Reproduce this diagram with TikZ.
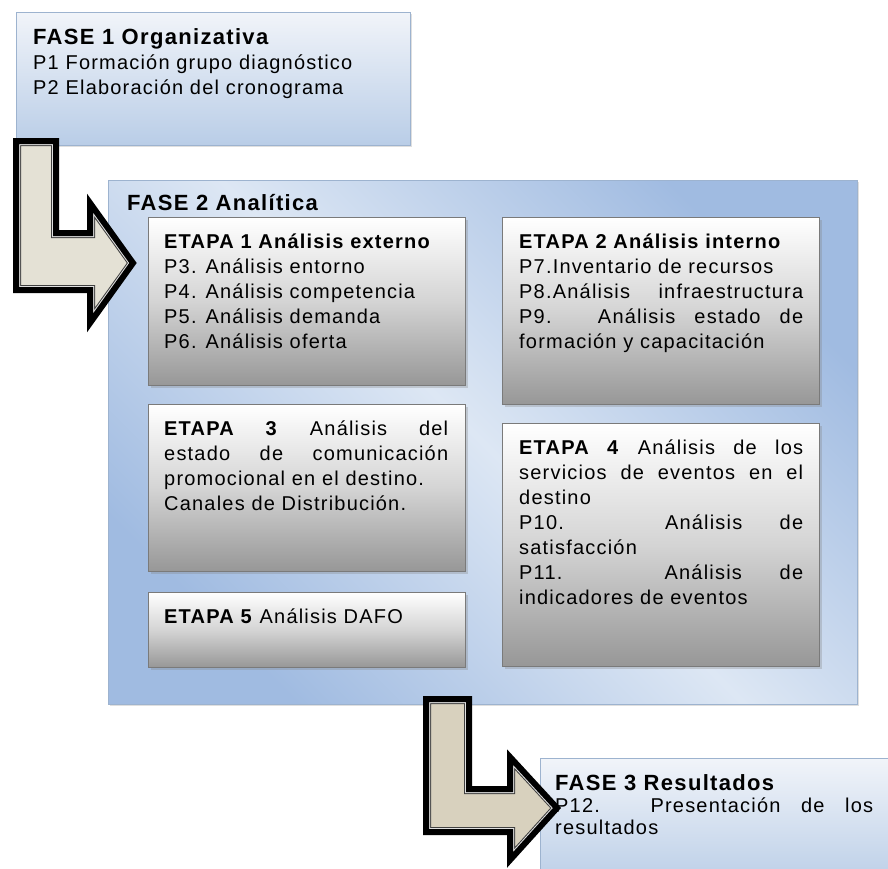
\documentclass[tikz,border=0pt]{standalone}
\usepackage{fontspec}
\setmainfont{Liberation Sans}[LetterSpace=6]
\usetikzlibrary{positioning,shadows}

\definecolor{faseTop}{HTML}{F1F4F9}
\definecolor{faseBot}{HTML}{B9CDE7}
\definecolor{faseLine}{HTML}{9DB3CF}
\definecolor{fTwoLight}{HTML}{DDE7F4}
\definecolor{fTwoDark}{HTML}{A0BBE1}
\definecolor{etapaMid}{HTML}{D4D4D4}
\definecolor{etapaBot}{HTML}{979797}
\definecolor{etapaLine}{HTML}{7A7A7A}
\definecolor{arrowA}{HTML}{E4E1D5}
\definecolor{arrowB}{HTML}{D8D1BE}

\newcommand{\fasetitle}[1]{{\fontsize{22}{25}\selectfont\bfseries #1}}
\newcommand{\bentarrow}[2]{%
  \fill[#2] #1;
  \begin{scope}
    \clip #1;
    \draw[arrowline, line width=10pt, black!75] #1;
    \draw[arrowline, line width=8pt, black!12] #1;
  \end{scope}
  \draw[arrowline] #1;
}

\begin{document}
\begin{tikzpicture}[
    x=1pt, y=-1pt,
    % --- Box styles ---
    box/.style={anchor=north west, inner sep=0pt},
    fase/.style={box, draw=faseLine, line width=0.8pt,
      top color=faseTop, bottom color=faseBot,
      drop shadow={shadow xshift=1.5pt, shadow yshift=-1.5pt, opacity=0.25}},
    analitica/.style={box, draw=faseLine, line width=0.8pt,
      top color=fTwoDark, bottom color=fTwoDark, middle color=fTwoLight,
      shading angle=-45,
      drop shadow={shadow xshift=1.5pt, shadow yshift=-2pt, opacity=0.25}},
    etapa/.style={box, draw=etapaLine, line width=1pt, minimum width=317pt,
      top color=white, bottom color=etapaBot, middle color=etapaMid,
      drop shadow={shadow xshift=2pt, shadow yshift=-2pt, opacity=0.3}},
    % --- Text styles ---
    txt/.style={anchor=base west, inner sep=0pt, text width=284pt,
      align=justify, font=\fontsize{20}{25}\selectfont},
    % --- Arrow style ---
    arrowline/.style={draw=black, line width=6pt, line join=miter},
    node distance=18pt,
]
\useasboundingbox (0,0) rectangle (888,868);

% === Phase boxes ===
\node[fase, minimum width=394pt, minimum height=133pt] (f1) at (16,12) {};
\node[analitica, minimum width=749pt, minimum height=524pt] (f2) at (108,180) {};
\node[fase, minimum width=370pt, minimum height=130pt] (f3) at (540,758) {};

% === Stage boxes ===
\node[etapa, minimum height=168pt] (e1) at (148,217) {};
\node[etapa, minimum height=187pt, right=36pt of e1.north east, anchor=north west] (e2) {};
\node[etapa, minimum height=167pt, below=of e1.south west, anchor=north west] (e3) {};
\node[etapa, minimum height=243pt, below=of e2.south west, anchor=north west] (e4) {};
\node[etapa, minimum height=75pt, below=20pt of e3.south west, anchor=north west] (e5) {};

% === Texts ===
\node[txt, text width=370pt] (f1t) at ([xshift=17pt, yshift=-32pt]f1.north west)
  {\fasetitle{FASE 1 Organizativa}\\ P1 Formación grupo diagnóstico\\
   P2 Elaboración del cronograma};
\node[txt] (f2t) at ([xshift=19pt, yshift=-30pt]f2.north west)
  {\fasetitle{FASE 2 Analítica}};
\node[txt, text width=318pt, font=\fontsize{20}{22}\selectfont] (f3t)
  at ([xshift=15pt, yshift=-32pt]f3.north west)
  {\fasetitle{FASE 3 Resultados}\\ P12. Presentación de los\linebreak resultados};

\node[txt] (e1t) at ([xshift=16pt, yshift=-31pt]e1.north west)
  {\textbf{ETAPA 1 Análisis externo}\\ P3. Análisis entorno\\
   P4. Análisis competencia\\ P5. Análisis demanda\\ P6. Análisis oferta};
\node[txt] (e2t) at ([xshift=17pt, yshift=-31pt]e2.north west)
  {\textbf{ETAPA 2 Análisis interno}\\ P7.Inventario de recursos\\
   P8.Análisis infraestructura\linebreak P9. Análisis estado de\linebreak
   formación y capacitación};
\node[txt] (e3t) at ([xshift=16pt, yshift=-31pt]e3.north west)
  {\textbf{ETAPA 3} Análisis del\linebreak estado de comunicación\linebreak
   promocional en el destino.\\ Canales de Distribución.};
\node[txt] (e4t) at ([xshift=17pt, yshift=-31pt]e4.north west)
  {\textbf{ETAPA 4} Análisis de los\linebreak servicios de eventos en el\linebreak
   destino\\ P10. Análisis de\linebreak satisfacción\\
   P11. Análisis de\linebreak indicadores de eventos};
\node[txt] (e5t) at ([xshift=16pt, yshift=-31pt]e5.north west)
  {\textbf{ETAPA 5} Análisis DAFO};

% === Bent arrows between phases ===
\bentarrow{(16,141) -- (56,141) -- (56,233) -- (90,233) -- (90,203) -- (133,263)
  -- (90,323) -- (90,290) -- (16,290) -- cycle}{arrowA}
\bentarrow{(426,699) -- (469,699) -- (469,789) -- (510,789) -- (510,757) -- (557,808)
  -- (510,860) -- (510,832) -- (426,832) -- cycle}{arrowB}

\end{tikzpicture}
\end{document}
